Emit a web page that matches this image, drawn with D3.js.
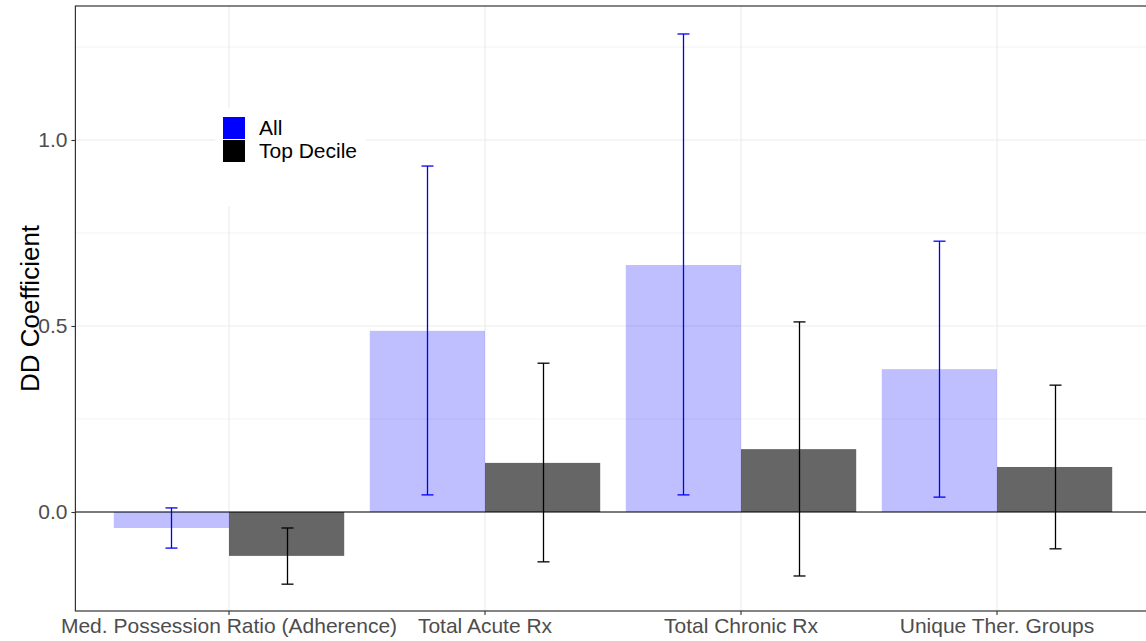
<!DOCTYPE html>
<html>
<head>
<meta charset="utf-8">
<script src="https://cdn.jsdelivr.net/npm/d3@7"></script>
<style>
  body { margin: 0; background: #fff; }
  svg text { font-family: "Liberation Sans", Arial, sans-serif; }
</style>
</head>
<body>
<svg id="chart" width="1146" height="641"></svg>
<script>
// Data
const categories = ["Med. Possession Ratio (Adherence)", "Total Acute Rx", "Total Chronic Rx", "Unique Ther. Groups"];
const groups = ["All", "Top Decile"];
const allValues = [-0.043, 0.487, 0.664, 0.384];
const allLower = [-0.097, 0.046, 0.046, 0.040];
const allUpper = [0.011, 0.930, 1.285, 0.728];
const topValues = [-0.118, 0.132, 0.169, 0.121];
const topLower = [-0.194, -0.134, -0.172, -0.099];
const topUpper = [-0.043, 0.400, 0.511, 0.341];
const yTicks = [0.0, 0.5, 1.0];
const yMinorTicks = [0.25, 0.75, 1.25];

const rows = [];
categories.forEach((c, i) => {
    rows.push({ cat: c, group: "All", value: allValues[i], lo: allLower[i], hi: allUpper[i] });
    rows.push({ cat: c, group: "Top Decile", value: topValues[i], lo: topLower[i], hi: topUpper[i] });
});

const fillColor = { "All": "rgba(0,0,255,0.25)", "Top Decile": "rgba(0,0,0,0.6)" };
const lineColor = { "All": "#0000ff", "Top Decile": "#000000" };

const svg = d3.select("#chart");
const panel = { left: 75.4, right: 1150.6, top: 6, bottom: 611 };

// Scales
const x = d3.scaleBand()
    .domain(categories)
    .range([panel.left, panel.right])
    .paddingInner(0.1)
    .paddingOuter(0.15);

const xGroup = d3.scaleBand()
    .domain(groups)
    .range([0, x.bandwidth()]);

const y = d3.scaleLinear()
    .domain([-99 / 372, 506 / 372])
    .range([panel.bottom, panel.top]);

const xCenter = c => x(c) + x.bandwidth() / 2;
// error bar centre, snapped to the pixel grid so the thin line stays sharp
const ebX = d => Math.round(x(d.cat) + xGroup(d.group) + xGroup.bandwidth() / 2) + 0.5;

const plot = svg.append("g");

// Grid
plot.selectAll(".minor")
    .data(yMinorTicks)
    .enter().append("line")
    .attr("x1", panel.left).attr("x2", panel.right)
    .attr("y1", d => y(d)).attr("y2", d => y(d))
    .attr("stroke", "#ebebeb").attr("stroke-width", 0.6);

plot.selectAll(".major")
    .data(yTicks)
    .enter().append("line")
    .attr("x1", panel.left).attr("x2", panel.right)
    .attr("y1", d => y(d)).attr("y2", d => y(d))
    .attr("stroke", "#ebebeb").attr("stroke-width", 1.1);

plot.selectAll(".vgrid")
    .data(categories)
    .enter().append("line")
    .attr("x1", d => xCenter(d)).attr("x2", d => xCenter(d))
    .attr("y1", panel.top).attr("y2", panel.bottom)
    .attr("stroke", "#ebebeb").attr("stroke-width", 1.1);

// Bars
plot.selectAll(".bar")
    .data(rows)
    .enter().append("rect")
    .attr("x", d => x(d.cat) + xGroup(d.group))
    .attr("width", xGroup.bandwidth())
    .attr("y", d => y(Math.max(0, d.value)))
    .attr("height", d => Math.abs(y(d.value) - y(0)))
    .attr("fill", d => fillColor[d.group]);

// Zero line
plot.append("line")
    .attr("x1", panel.left).attr("x2", panel.right)
    .attr("y1", y(0)).attr("y2", y(0))
    .attr("stroke", "#000").attr("stroke-width", 1.2);

// Error bars
const capHalf = 6;
const eb = plot.selectAll(".err")
    .data(rows)
    .enter().append("g")
    .attr("stroke", d => lineColor[d.group])
    .attr("stroke-width", 1.3);

eb.append("line")
    .attr("x1", ebX).attr("x2", ebX)
    .attr("y1", d => y(d.lo)).attr("y2", d => y(d.hi));

["lo", "hi"].forEach(k => {
    eb.append("line")
        .attr("x1", d => ebX(d) - capHalf)
        .attr("x2", d => ebX(d) + capHalf)
        .attr("y1", d => y(d[k])).attr("y2", d => y(d[k]));
});

// Panel border
plot.append("rect")
    .attr("x", panel.left).attr("y", panel.top)
    .attr("width", panel.right - panel.left).attr("height", panel.bottom - panel.top)
    .attr("fill", "none").attr("stroke", "#333").attr("stroke-width", 1.2);

// Axes
const yAxis = svg.append("g")
    .attr("transform", `translate(${panel.left},0)`)
    .call(d3.axisLeft(y).tickValues(yTicks).tickFormat(d3.format(".1f")).tickSizeInner(4).tickSizeOuter(0).tickPadding(4));
yAxis.select(".domain").remove();
yAxis.selectAll("line").attr("stroke", "#333").attr("stroke-width", 1.1);
yAxis.selectAll("text").attr("fill", "#4d4d4d").style("font-size", "21px");

const xAxis = svg.append("g")
    .attr("transform", `translate(0,${panel.bottom})`)
    .call(d3.axisBottom(x).tickSizeInner(4).tickSizeOuter(0).tickPadding(3));
xAxis.select(".domain").remove();
xAxis.selectAll("line").attr("stroke", "#333").attr("stroke-width", 1.1);
xAxis.selectAll("text").attr("fill", "#4d4d4d").style("font-size", "21px");

// Y title
svg.append("text")
    .attr("transform", `translate(39,${(panel.top + panel.bottom) / 2}) rotate(-90)`)
    .attr("text-anchor", "middle")
    .style("font-size", "26px")
    .attr("fill", "#000")
    .text("DD Coefficient");

// Legend
const legend = svg.append("g");
legend.append("rect")
    .attr("x", 215).attr("y", 108).attr("width", 151).attr("height", 98)
    .attr("fill", "#fff");
groups.forEach((g, i) => {
    legend.append("rect")
        .attr("x", 223).attr("y", 117 + i * 23)
        .attr("width", 22).attr("height", 22)
        .attr("fill", lineColor[g]);
    legend.append("text")
        .attr("x", 259).attr("y", 128 + i * 23)
        .attr("dy", "0.35em")
        .style("font-size", "21px")
        .attr("fill", "#000")
        .text(g);
});
</script>
</body>
</html>
